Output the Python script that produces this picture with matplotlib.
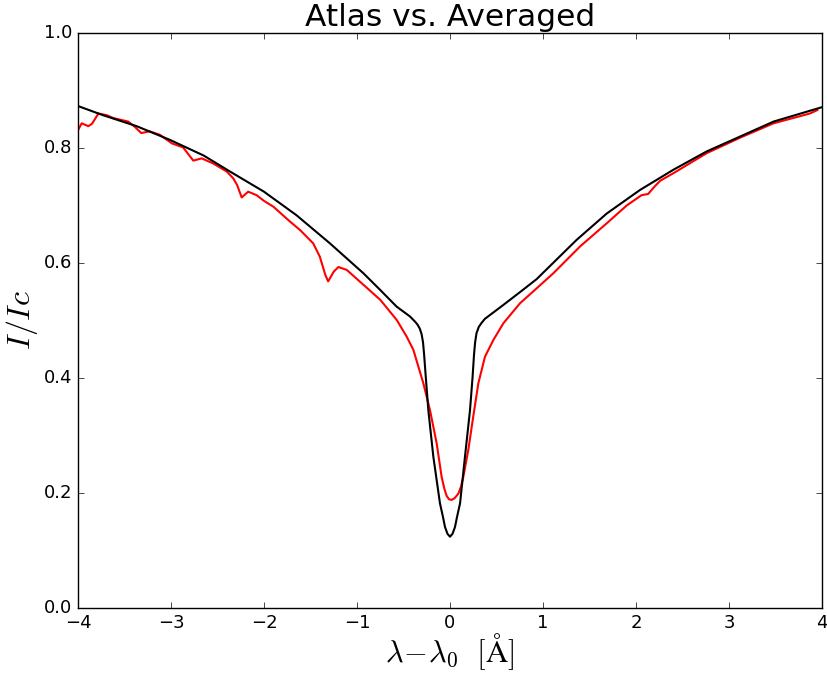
import matplotlib
matplotlib.use("Agg")
import matplotlib.pyplot as plt

plt.style.use("classic")
plt.rcParams["mathtext.fontset"] = "cm"

# atlas profile (black)
atlas_x = [-4.0, -3.73, -3.37, -3.01, -2.65, -2.365, -2.0, -1.65, -1.29, -0.93,
           -0.75, -0.573, -0.43, -0.376, -0.35, -0.325, -0.305, -0.29, -0.278, -0.262,
           -0.233, -0.179, -0.108, -0.075, -0.054, -0.027, 0.0, 0.027, 0.054, 0.075,
           0.108, 0.161, 0.215, 0.242, 0.258, 0.27, 0.285, 0.31, 0.34, 0.376,
           0.45, 0.573, 0.75, 0.932, 1.36, 1.685, 2.043, 2.40, 2.76, 3.12,
           3.48, 4.0]
atlas_y = [0.873, 0.857, 0.838, 0.814, 0.787, 0.759, 0.724, 0.683, 0.634, 0.582,
           0.553, 0.524, 0.507, 0.498, 0.493, 0.486, 0.476, 0.462, 0.44, 0.405,
           0.344, 0.263, 0.182, 0.158, 0.141, 0.129, 0.124, 0.129, 0.141, 0.158,
           0.182, 0.263, 0.344, 0.40, 0.44, 0.462, 0.478, 0.489, 0.496, 0.503,
           0.512, 0.527, 0.549, 0.572, 0.64, 0.686, 0.727, 0.762, 0.794, 0.82,
           0.846, 0.871]

# averaged profile (red)
avg_x = [-4.0, -3.96, -3.89, -3.85, -3.78, -3.69, -3.62, -3.46, -3.39, -3.32,
         -3.23, -3.12, -2.99, -2.87, -2.76, -2.67, -2.545, -2.40, -2.33, -2.29,
         -2.24, -2.17, -2.08, -2.0, -1.9, -1.72, -1.61, -1.47, -1.40, -1.34,
         -1.31, -1.25, -1.20, -1.11, -0.93, -0.75, -0.573, -0.466, -0.394, -0.287,
         -0.215, -0.143, -0.09, -0.06, -0.036, -0.01, 0.018, 0.05, 0.09, 0.118,
         0.143, 0.197, 0.25, 0.305, 0.376, 0.466, 0.573, 0.753, 0.932, 1.11,
         1.40, 1.685, 1.90, 2.06, 2.13, 2.20, 2.26, 2.40, 2.76, 3.12,
         3.48, 3.87, 3.95]
avg_y = [0.831, 0.843, 0.838, 0.842, 0.86, 0.857, 0.852, 0.846, 0.837, 0.826,
         0.829, 0.823, 0.808, 0.801, 0.778, 0.782, 0.773, 0.759, 0.747, 0.736,
         0.714, 0.724, 0.718, 0.708, 0.698, 0.672, 0.657, 0.634, 0.611, 0.579,
         0.568, 0.585, 0.593, 0.588, 0.562, 0.536, 0.501, 0.472, 0.449, 0.391,
         0.344, 0.286, 0.228, 0.207, 0.195, 0.189, 0.188, 0.191, 0.199, 0.211,
         0.228, 0.275, 0.333, 0.391, 0.437, 0.466, 0.495, 0.53, 0.556, 0.582,
         0.629, 0.669, 0.70, 0.718, 0.72, 0.733, 0.743, 0.756, 0.791, 0.818,
         0.843, 0.86, 0.866]

fig = plt.figure(figsize=(8.28, 6.77), dpi=100, facecolor="white")
ax = fig.add_axes([78 / 828, 69 / 677, 744 / 828, 575 / 677])

ax.plot(avg_x, avg_y, color="red", linewidth=1.5, solid_joinstyle="round")
ax.plot(atlas_x, atlas_y, color="black", linewidth=1.5, solid_joinstyle="round")

ax.set_xlim(-4, 4)
ax.set_ylim(0, 1)
ax.set_xticks(range(-4, 5))
ax.set_yticks([0.0, 0.2, 0.4, 0.6, 0.8, 1.0])
ax.tick_params(labelsize=13)

ax.set_title("Atlas vs. Averaged", fontsize=22.5)
ax.set_xlabel(r"$\lambda\!-\!\lambda_0\ \ [\mathrm{\AA}]$", fontsize=22, labelpad=0)
ax.set_ylabel(r"$I/Ic$", fontsize=23, labelpad=3)

fig.savefig("out.png", dpi=100, facecolor="white")
